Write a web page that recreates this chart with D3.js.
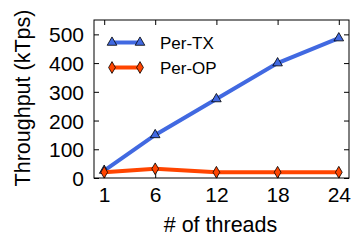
<!DOCTYPE html>
<html>
<head>
<meta charset="utf-8">
<script src="https://cdn.jsdelivr.net/npm/d3@7"></script>
<style>
  body { margin: 0; background: #fff; }
  text { font-family: "Liberation Sans", Arial, sans-serif; fill: #000; }
</style>
</head>
<body>
<svg width="351" height="241"></svg>
<script>
// data
var threads = [1, 6, 12, 18, 24];
var perTX = [26, 150, 275, 400, 487];
var perOP = [20, 32, 20, 20, 20];
var yTicks = [0, 100, 200, 300, 400, 500];

var svg = d3.select("svg"),
    margin = {top: 20, right: 2, bottom: 63, left: 94},
    w = 351 - margin.left - margin.right,
    h = 241 - margin.top - margin.bottom,
    g = svg.append("g").attr("transform", "translate(" + margin.left + "," + margin.top + ")");

var x = d3.scaleLinear().domain([0, 25]).range([0, w]);
var y = d3.scaleLinear().domain([0, 550]).range([h, 0]);

// frame
g.append("rect").attr("width", w).attr("height", h)
  .attr("fill", "none").attr("stroke", "#000").attr("stroke-width", 1);

// axes with inward ticks
var xAxis = d3.axisBottom(x).tickValues(threads).tickSize(-5).tickPadding(9);
var yAxis = d3.axisLeft(y).tickValues(yTicks).tickSize(-5).tickPadding(10);

var gx = g.append("g").attr("transform", "translate(0," + h + ")").call(xAxis);
var gy = g.append("g").call(yAxis);
g.append("g").call(d3.axisTop(x).tickValues(threads).tickSize(-5).tickFormat(""));
g.append("g").attr("transform", "translate(" + w + ",0)")
  .call(d3.axisRight(y).tickValues(yTicks).tickSize(-5).tickFormat(""));

g.selectAll(".domain").remove();
g.selectAll(".tick line").attr("stroke", "#000");
gx.selectAll("text").style("font-size", "21px");
gy.selectAll("text").style("font-size", "21px").attr("dy", "0.36em");

// lines
var line = d3.line()
  .x(function(d, i) { return x(threads[i]); })
  .y(function(d) { return y(d); });

var series = [
  {name: "Per-TX", values: perTX, color: "#4169e1", shape: d3.symbolTriangle},
  {name: "Per-OP", values: perOP, color: "#ff4500", shape: d3.symbolDiamond}
];

series.forEach(function(s) {
  g.append("path").datum(s.values)
    .attr("fill", "none").attr("stroke", s.color).attr("stroke-width", 4)
    .attr("d", line);
  g.selectAll(null).data(s.values).enter().append("path")
    .attr("d", d3.symbol().type(s.shape).size(40))
    .attr("transform", function(d, i) { return "translate(" + x(threads[i]) + "," + y(d) + ")"; })
    .attr("fill", s.color).attr("stroke", "#000").attr("stroke-width", 0.8);
});

// legend
var lg = g.append("g").attr("transform", "translate(18,22.5)");
series.forEach(function(s, i) {
  var row = lg.append("g").attr("transform", "translate(0," + (i * 25) + ")");
  row.append("line").attr("x1", 0).attr("x2", 28)
    .attr("stroke", s.color).attr("stroke-width", 4);
  [0, 28].forEach(function(px) {
    row.append("path").attr("d", d3.symbol().type(s.shape).size(40))
      .attr("transform", "translate(" + px + ",0)")
      .attr("fill", s.color).attr("stroke", "#000").attr("stroke-width", 0.8);
  });
  row.append("text").attr("x", 48).attr("dy", "0.36em")
    .style("font-size", "17px").text(s.name);
});

// axis titles
svg.append("text")
  .attr("transform", "translate(22,98) rotate(-90)")
  .attr("text-anchor", "middle").attr("dy", "0.36em")
  .style("font-size", "21.5px")
  .text("Throughput (kTps)");

svg.append("text")
  .attr("x", 220.5).attr("y", 232)
  .attr("text-anchor", "middle")
  .style("font-size", "21.5px")
  .text("# of threads");
</script>
</body>
</html>
